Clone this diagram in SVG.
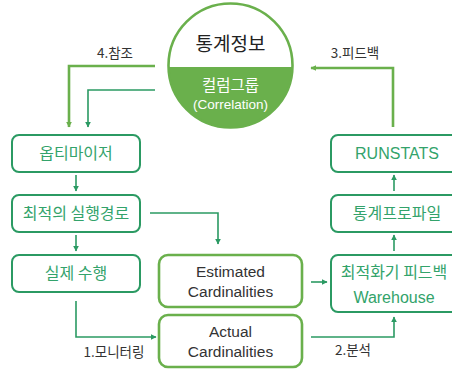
<svg xmlns="http://www.w3.org/2000/svg" width="452" height="369" viewBox="0 0 452 369">
<defs>
<style>
.box{fill:#fff;stroke:#2b9a63;stroke-width:2}
.lbox{fill:#fff;stroke:#6ab04c;stroke-width:2.6}
.gt{font-family:"Noto Sans CJK KR","Liberation Sans",sans-serif;font-size:16px;fill:#33a36b;text-anchor:middle}
.ge{font-family:"Liberation Sans","Noto Sans CJK KR",sans-serif;font-size:16px;fill:#33a36b;text-anchor:middle}
.dt{font-family:"Liberation Sans","Noto Sans CJK KR",sans-serif;font-size:15.5px;fill:#333;text-anchor:middle}
.lab{font-family:"Noto Sans CJK KR","Liberation Sans",sans-serif;font-size:13.5px;fill:#333;text-anchor:middle}
.c{fill:none;stroke:#2b9a63;stroke-width:1.6}
.cl{fill:none;stroke:#6ab04c;stroke-width:2.6}
</style>
<marker id="ad" viewBox="0 0 10 10" refX="9" refY="5" markerWidth="6" markerHeight="6" orient="auto" markerUnits="userSpaceOnUse"><path d="M0,0 L10,5 L0,10 z" fill="#2b9a63"/></marker>
<marker id="al" viewBox="0 0 10 10" refX="9" refY="5" markerWidth="6" markerHeight="6" orient="auto" markerUnits="userSpaceOnUse"><path d="M0,0 L10,5 L0,10 z" fill="#6ab04c"/></marker>
<clipPath id="bot"><rect x="160" y="67" width="140" height="70"/></clipPath>
</defs>
<g id="stats">
<circle cx="230.5" cy="65.5" r="62" fill="#fff"/>
<circle cx="230.5" cy="65.5" r="62" fill="#6ab04c" clip-path="url(#bot)"/>
<circle cx="230.5" cy="65.5" r="62" fill="none" stroke="#6ab04c" stroke-width="2.6"/>
<text x="230.5" y="51" font-family="'Noto Sans CJK KR',sans-serif" font-size="19" fill="#222" text-anchor="middle">통계정보</text>
<text x="230.5" y="91" font-family="'Noto Sans CJK KR',sans-serif" font-size="15.5" fill="#fff" text-anchor="middle">컬럼그룹</text>
<text x="230.5" y="109" font-family="'Liberation Sans',sans-serif" font-size="13.5" fill="#fff" text-anchor="middle">(Correlation)</text>
</g>
<g id="connectors">
<polyline class="cl" points="155,66 69,66 69,127" marker-end="url(#al)"/>
<polyline class="c" points="155,90 88,90 88,127" marker-end="url(#ad)"/>
<text class="lab" x="115" y="58">4.참조</text>
<polyline class="cl" points="393,127 393,68 311,68" marker-end="url(#al)"/>
<text class="lab" x="355" y="58">3.피드백</text>
<line class="c" x1="76" y1="175" x2="76" y2="191" marker-end="url(#ad)"/>
<line class="c" x1="76" y1="235" x2="76" y2="251" marker-end="url(#ad)"/>
<polyline class="c" points="150,213 218,213 218,244" marker-end="url(#ad)"/>
<polyline class="c" points="76,301 76,337 156,337" marker-end="url(#ad)"/>
<text class="lab" x="114" y="357">1.모니터링</text>
<line class="c" x1="311" y1="282" x2="327" y2="282" marker-end="url(#ad)"/>
<polyline class="c" points="311,337 394,337 394,317" marker-end="url(#ad)"/>
<text class="lab" x="353" y="355">2.분석</text>
<line class="c" x1="394" y1="251" x2="394" y2="235" marker-end="url(#ad)"/>
<line class="c" x1="394" y1="191" x2="394" y2="175" marker-end="url(#ad)"/>
</g>
<g id="optimizer"><rect class="box" x="12" y="135" width="128" height="37" rx="7"/><text class="gt" x="76" y="159">옵티마이저</text></g>
<g id="bestpath"><rect class="box" x="12" y="195" width="128" height="37" rx="7"/><text class="gt" x="76" y="219">최적의 실행경로</text></g>
<g id="exec"><rect class="box" x="12" y="255" width="128" height="37" rx="7"/><text class="gt" x="76" y="279">실제 수행</text></g>
<g id="estimated"><rect class="lbox" x="159" y="255" width="143" height="52" rx="9"/><text class="dt" x="230.5" y="277">Estimated</text><text class="dt" x="230.5" y="297">Cardinalities</text></g>
<g id="actual"><rect class="lbox" x="159" y="315" width="143" height="52" rx="9"/><text class="dt" x="230.5" y="337">Actual</text><text class="dt" x="230.5" y="357">Cardinalities</text></g>
<g id="runstats"><rect class="box" x="331" y="135" width="130" height="37" rx="7"/><text class="ge" x="397" y="159">RUNSTATS</text></g>
<g id="profile"><rect class="box" x="331" y="195" width="130" height="37" rx="7"/><text class="gt" x="397" y="219">통계프로파일</text></g>
<g id="warehouse"><rect class="box" x="331" y="255" width="130" height="57" rx="7"/><text class="gt" x="394" y="278">최적화기 피드백</text><text class="ge" x="394" y="303">Warehouse</text></g>
</svg>
